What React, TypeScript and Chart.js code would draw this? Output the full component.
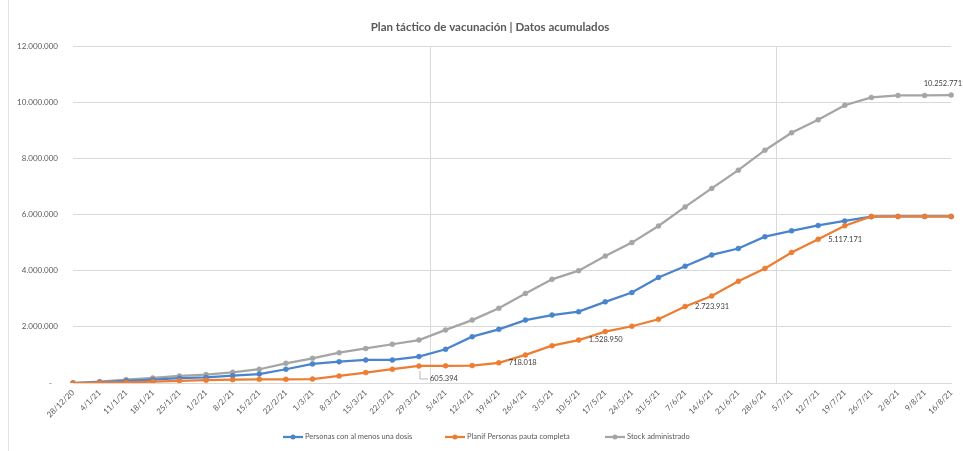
import React, { useEffect, useRef } from 'react';
import { Chart, registerables } from 'chart.js';

Chart.register(...registerables);

const categories = [
  '28/12/20', '4/1/21', '11/1/21', '18/1/21', '25/1/21', '1/2/21', '8/2/21', '15/2/21', '22/2/21',
  '1/3/21', '8/3/21', '15/3/21', '22/3/21', '29/3/21', '5/4/21', '12/4/21', '19/4/21', '26/4/21',
  '3/5/21', '10/5/21', '17/5/21', '24/5/21', '31/5/21', '7/6/21', '14/6/21', '21/6/21', '28/6/21',
  '5/7/21', '12/7/21', '19/7/21', '26/7/21', '2/8/21', '9/8/21', '16/8/21',
];

const personasUnaDosis = [
  0, 30000, 80000, 120000, 170000, 200000, 260000, 320000, 490000, 680000, 760000, 820000, 820000,
  940000, 1200000, 1650000, 1910000, 2240000, 2420000, 2540000, 2890000, 3220000, 3760000, 4160000,
  4560000, 4790000, 5210000, 5420000, 5610000, 5770000, 5920000, 5930000, 5930000, 5930000,
];

const pautaCompleta = [
  0, 10000, 20000, 50000, 80000, 100000, 120000, 130000, 130000, 140000, 250000, 370000, 490000,
  605394, 610000, 620000, 718018, 1000000, 1330000, 1528950, 1830000, 2020000, 2270000, 2723931,
  3100000, 3620000, 4080000, 4650000, 5117171, 5600000, 5930000, 5930000, 5930000, 5930000,
];

const stockAdministrado = [
  0, 50000, 120000, 180000, 250000, 300000, 380000, 490000, 700000, 880000, 1080000, 1230000,
  1380000, 1530000, 1890000, 2240000, 2660000, 3190000, 3690000, 4000000, 4520000, 5000000,
  5590000, 6270000, 6930000, 7580000, 8290000, 8910000, 9370000, 9890000, 10170000, 10240000,
  10240000, 10252771,
];

const pautaLabelIdx = [13, 16, 19, 23, 28];
const stockLabelIdx = [33];
const markerLinePositions = [13.4, 26.4];

const seriesNames = ['Personas con al menos una dosis', 'Planif Personas pauta completa', 'Stock administrado'];
const seriesColors = ['#4A84CC', '#ED7D31', '#A5A5A5'];
const titleText = 'Plan táctico de vacunación | Datos acumulados';

const FONT = 'Lato, "Liberation Sans", sans-serif';

function fmt(v: number): string {
  if (v === 0) return '-';
  return Math.round(v).toString().replace(/\B(?=(\d{3})+(?!\d))/g, '.');
}

const decorPlugin = {
  id: 'decor',
  beforeDraw(chart: any) {
    const ctx = chart.ctx;
    ctx.save();
    ctx.fillStyle = '#ffffff';
    ctx.fillRect(0, 0, chart.width, chart.height);
    ctx.strokeStyle = '#e4e4e4';
    ctx.lineWidth = 1;
    ctx.beginPath();
    ctx.moveTo(8.5, 0);
    ctx.lineTo(8.5, chart.height);
    ctx.stroke();
    ctx.restore();
  },
  beforeDatasetsDraw(chart: any) {
    const ctx = chart.ctx;
    const xs = chart.scales.x;
    const area = chart.chartArea;
    ctx.save();
    ctx.strokeStyle = '#d9d9d9';
    ctx.lineWidth = 1;
    markerLinePositions.forEach((p) => {
      const x = Math.round(xs.getPixelForValue(p)) + 0.5;
      ctx.beginPath();
      ctx.moveTo(x, area.top);
      ctx.lineTo(x, area.bottom);
      ctx.stroke();
    });
    ctx.restore();
  },
  afterDatasetsDraw(chart: any) {
    const ctx = chart.ctx;
    const xs = chart.scales.x;
    const ys = chart.scales.y;
    ctx.save();
    ctx.font = `7.5px ${FONT}`;
    ctx.fillStyle = '#404040';
    ctx.textBaseline = 'middle';
    pautaLabelIdx.forEach((i, k) => {
      const x = xs.getPixelForValue(i);
      const y = ys.getPixelForValue(pautaCompleta[i]);
      if (k === 0) {
        ctx.strokeStyle = '#a6a6a6';
        ctx.lineWidth = 0.8;
        ctx.beginPath();
        ctx.moveTo(x + 1, y + 5);
        ctx.lineTo(x + 1, y + 13);
        ctx.lineTo(x + 9, y + 13);
        ctx.stroke();
        ctx.textAlign = 'left';
        ctx.fillText(fmt(pautaCompleta[i]), x + 11, y + 13);
      } else {
        ctx.textAlign = 'left';
        ctx.fillText(fmt(pautaCompleta[i]), x + 10, y);
      }
    });
    stockLabelIdx.forEach((i) => {
      const y = ys.getPixelForValue(stockAdministrado[i]);
      ctx.textAlign = 'right';
      ctx.fillText(fmt(stockAdministrado[i]), chart.width - 1, y - 11);
    });
    ctx.restore();
  },
  afterDraw(chart: any) {
    const ctx = chart.ctx;
    ctx.save();
    ctx.font = `bold 11.5px ${FONT}`;
    ctx.fillStyle = '#595959';
    ctx.textAlign = 'center';
    ctx.textBaseline = 'middle';
    ctx.fillText(titleText, 490, 27);

    const legendX = [283, 445, 605];
    const ly = 437;
    ctx.font = `7.5px ${FONT}`;
    ctx.textAlign = 'left';
    seriesNames.forEach((name, i) => {
      const x0 = legendX[i];
      ctx.strokeStyle = seriesColors[i];
      ctx.lineWidth = 2.25;
      ctx.beginPath();
      ctx.moveTo(x0, ly);
      ctx.lineTo(x0 + 20, ly);
      ctx.stroke();
      ctx.fillStyle = seriesColors[i];
      ctx.beginPath();
      ctx.arc(x0 + 10, ly, 2.5, 0, Math.PI * 2);
      ctx.fill();
      ctx.fillStyle = '#595959';
      ctx.fillText(name, x0 + 22, ly);
    });
    ctx.restore();
  },
};

export default function App() {
  const canvasRef = useRef<HTMLCanvasElement | null>(null);

  useEffect(() => {
    if (!canvasRef.current) return;
    const series = [personasUnaDosis, pautaCompleta, stockAdministrado];
    const orders = [1, 0, 2];
    const chart = new Chart(canvasRef.current, {
      type: 'line',
      data: {
        labels: categories,
        datasets: series.map((d, i) => ({
          label: seriesNames[i],
          data: d,
          borderColor: seriesColors[i],
          backgroundColor: seriesColors[i],
          borderWidth: 2.25,
          pointRadius: 2.5,
          pointBorderWidth: 0.5,
          pointBackgroundColor: seriesColors[i],
          pointBorderColor: seriesColors[i],
          tension: 0,
          fill: false,
          order: orders[i],
        })),
      },
      options: {
        responsive: false,
        animation: false,
        devicePixelRatio: 1,
        layout: { padding: { left: 0, right: 8, top: 46, bottom: 0 } },
        plugins: {
          legend: { display: false },
          title: { display: false },
          tooltip: { enabled: false },
        },
        scales: {
          x: {
            type: 'category',
            offset: false,
            grid: { display: false, drawTicks: false },
            border: { display: true, color: '#d9d9d9', width: 1 },
            ticks: {
              autoSkip: false,
              minRotation: 45,
              maxRotation: 45,
              padding: 5,
              color: '#595959',
              font: { family: FONT, size: 8 },
            },
            afterFit(scale: any) {
              scale.height = 68;
            },
          },
          y: {
            min: 0,
            max: 12000000,
            grid: { color: '#d9d9d9', lineWidth: 1, drawTicks: false },
            border: { display: false },
            ticks: {
              stepSize: 2000000,
              padding: 15,
              color: '#595959',
              font: { family: FONT, size: 8 },
              callback: (v: any) => (Number(v) === 0 ? '-   ' : fmt(Number(v))),
            },
            afterFit(scale: any) {
              scale.width = 73;
            },
          },
        },
      },
      plugins: [decorPlugin],
    } as any);
    return () => chart.destroy();
  }, []);

  return (
    <div style={{ position: 'absolute', left: 0, top: 0, width: 963, height: 451 }}>
      <canvas ref={canvasRef} width={963} height={451} />
    </div>
  );
}
